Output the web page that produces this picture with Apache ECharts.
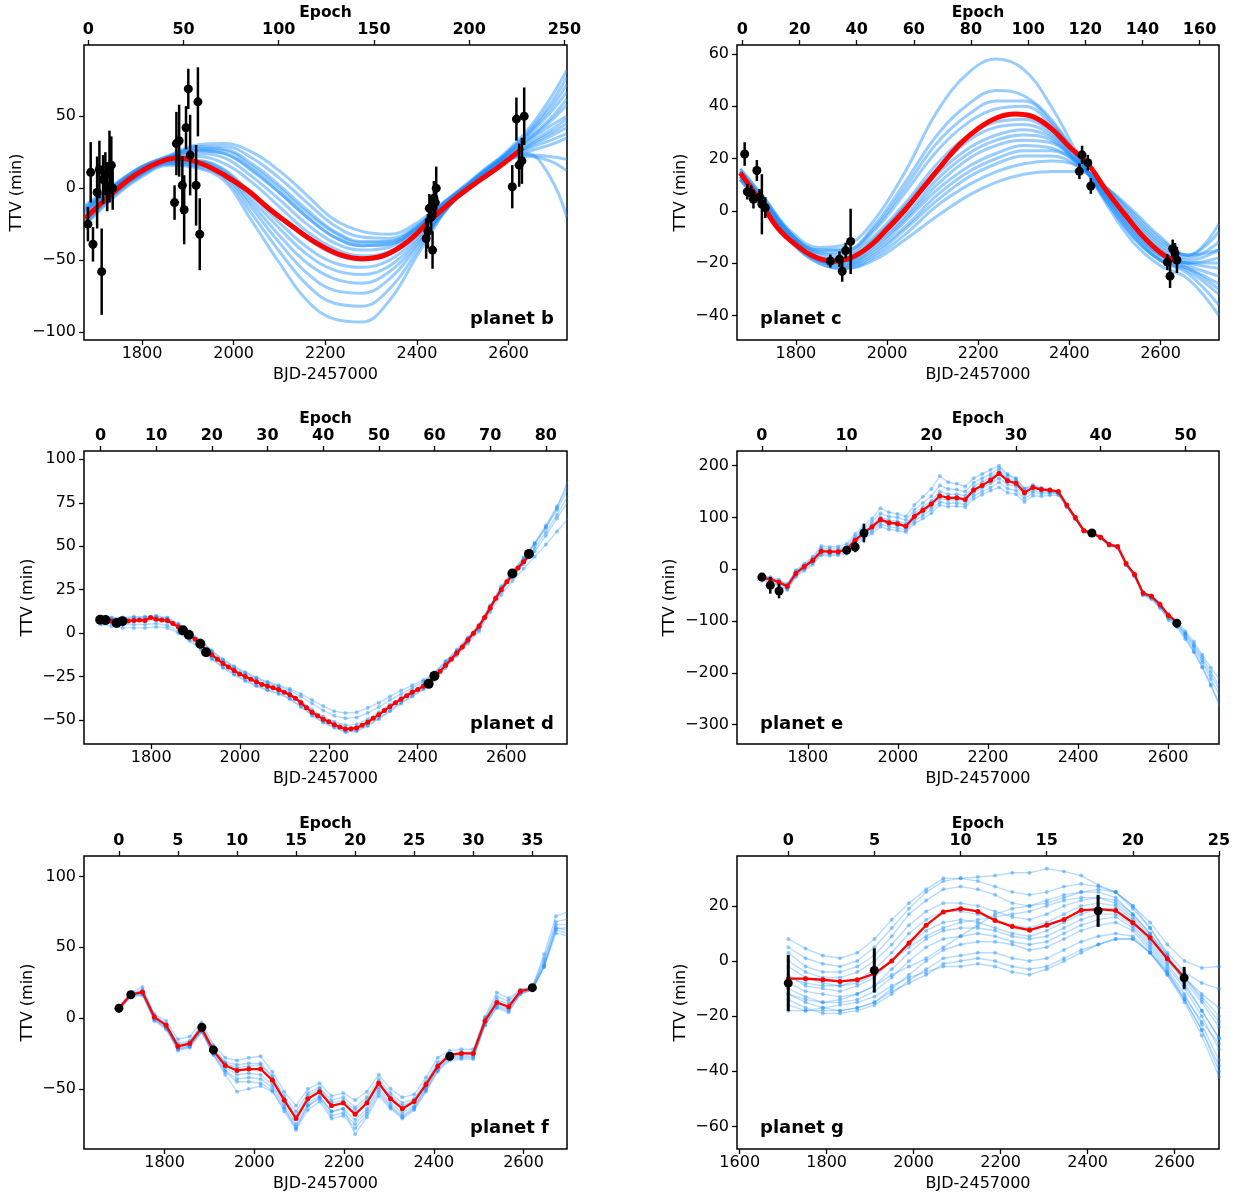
<!DOCTYPE html>
<html><head><meta charset="utf-8">
<script src="https://cdn.jsdelivr.net/npm/echarts@6/dist/echarts.min.js"></script>
<style>html,body{margin:0;padding:0;background:#fff}#c{width:1242px;height:1196px}</style>
</head><body><div id="c"></div>
<script>
const FONT = 'DejaVu Sans';

// ---------------- planet b ----------------
const bGridX = [1676, 1740, 1800, 1860, 1920, 1980, 2040, 2100, 2160, 2220, 2280, 2340, 2400, 2460, 2520, 2580, 2640, 2690, 2727];
const bBlue = [
  [-26, -6, 8, 16, 14, 5, -23, -52, -78, -91, -93, -78, -47, -17, 5, 21, 40, 62, 82],
  [-25, -5, 9, 17, 15, 7, -18, -44, -67, -80, -82, -70, -44, -16, 5, 20, 38, 58, 77],
  [-24, -4, 10, 17, 16, 9, -14, -38, -59, -71, -73, -63, -41, -16, 4, 20, 37, 55, 72],
  [-23, -3, 10, 18, 17, 10, -11, -33, -52, -63, -66, -58, -39, -16, 4, 19, 36, 52, 67],
  [-22, -2, 11, 18, 18, 12, -8, -28, -46, -57, -60, -54, -37, -16, 4, 19, 34, 48, 62],
  [-21, -1, 12, 19, 19, 13, -5, -24, -41, -52, -55, -50, -35, -15, 4, 19, 33, 46, 58],
  [-20, -2, 11, 19, 19, 11, -3, -20, -35, -46, -50, -46, -33, -14, 3, 18, 32, 43, 50],
  [-17, 0, 13, 21, 24, 21, 8, -8, -25, -38, -43, -41, -29, -12, 3, 17, 30, 40, 48],
  [-16, 1, 14, 21, 26, 24, 13, -3, -20, -34, -40, -39, -28, -11, 4, 17, 29, 38, 45],
  [-15, 1, 14, 22, 28, 27, 17, 2, -15, -30, -37, -37, -27, -10, 4, 17, 28, 36, 42],
  [-13, 2, 15, 22, 29, 29, 21, 7, -10, -26, -34, -35, -26, -10, 4, 16, 27, 33, 38],
  [-12, 3, 15, 23, 30, 31, 25, 12, -5, -22, -30, -32, -24, -9, 4, 16, 25, 30, 35],
  [-14, 2, 15, 22, 27, 26, 15, 0, -17, -31, -38, -37, -27, -10, 5, 18, 22, 19, 12],
  [-15, 1, 14, 21, 26, 24, 12, -3, -20, -34, -40, -39, -28, -10, 6, 20, 24, 8, -20],
  [-18, -1, 12, 20, 22, 17, 4, -13, -30, -42, -47, -44, -31, -12, 5, 18, 23, 22, 20]
];
const bRedX = [1676, 1730, 1780, 1830, 1880, 1930, 1980, 2030, 2080, 2130, 2180, 2230, 2280, 2330, 2380, 2430, 2480, 2530, 2580, 2631];
const bRed  = [-21, -5, 8, 17, 21, 17, 9, -1.5, -15, -27, -38, -46, -49, -46.5, -37, -22, -8, 4, 15, 28];
const bObsX = [1682, 1688, 1693, 1702, 1707, 1712, 1715, 1720, 1724, 1729, 1733, 1736, 1871, 1875, 1881, 1888, 1892, 1896, 1901, 1905, 1918, 1922, 1926, 2420, 2424, 2427, 2431, 2434, 2437, 2440, 2442, 2608, 2617, 2623, 2629, 2634];
const bObsY = [-25, 11, -39, -3, 13, -58, 6, 10, 1, 15, 16, 0, -10, 31, 33, 2, -15, 42, 69, 23, 2, 60, -32, -35, -30, -14, -20, -43, -7, -10, 0, 1, 48, 16, 19, 50];
const bObsErr = [12, 21, 12, 25, 20, 30, 17, 15, 17, 25, 20, 15, 12, 22, 25, 20, 24, 15, 14, 28, 28, 24, 25, 14, 12, 10, 12, 13, 12, 10, 15, 15, 15, 15, 16, 20];

// ---------------- planet c ----------------
const cGridX = [1678, 1730, 1790, 1850, 1910, 1970, 2040, 2110, 2180, 2240, 2300, 2360, 2420, 2480, 2540, 2600, 2660, 2728];
const cBlue = [
  [16, 5, -8, -14, -13, -4, 15, 38, 53, 58, 54, 40, 21, 3, -12, -21, -26, -40],
  [15, 4, -9, -15, -15, -6, 11, 29, 41, 46, 44, 35, 20, 4, -10, -19, -24, -36],
  [15, 4, -9, -15, -15, -7, 9, 26, 37, 42, 42, 34, 20, 4, -10, -19, -23, -32],
  [15, 4, -9, -16, -16, -8, 7, 23, 34, 39, 40, 33, 20, 5, -9, -19, -22, -28],
  [16, 5, -9, -16, -17, -10, 3, 18, 29, 34, 35, 30, 19, 5, -8, -18, -22, -30],
  [14, 3, -10, -17, -18, -11, 2, 16, 27, 32, 33, 29, 19, 6, -8, -17, -21, -25],
  [14, 3, -10, -18, -19, -12, 0, 14, 24, 29, 31, 28, 18, 6, -7, -17, -20, -22],
  [14, 3, -10, -18, -19, -13, -2, 12, 22, 27, 29, 27, 18, 6, -6, -16, -20, -20],
  [13, 2, -11, -18, -20, -14, -3, 10, 20, 25, 27, 26, 18, 7, -5, -15, -20, -18],
  [13, 2, -11, -19, -20, -15, -4, 8, 17, 22, 25, 24, 18, 8, -4, -14, -19, -15],
  [13, 2, -11, -19, -21, -16, -6, 6, 15, 20, 23, 23, 18, 8, -3, -13, -18, -12],
  [12, 1, -12, -19, -21, -17, -7, 4, 13, 18, 21, 21, 17, 9, -2, -12, -17, -8],
  [12, 1, -12, -20, -22, -18, -9, 2, 10, 15, 18, 19, 17, 9, -1, -11, -17, -5],
  [12, 1, -12, -20, -22, -19, -11, -2, 6, 11, 14, 15, 15, 9, 0, -10, -17, -15]
];
const cRedX = [1678, 1720, 1760, 1800, 1840, 1880, 1920, 1960, 2000, 2040, 2080, 2120, 2160, 2200, 2240, 2280, 2320, 2360, 2400, 2440, 2480, 2520, 2560, 2600, 2636];
const cRed  = [14.5, 4, -6.5, -13, -17.5, -19.3, -18, -13.8, -7, 0.5, 9, 17.5, 25.5, 31.5, 35.5, 37, 36, 31.5, 24.5, 18, 8, -1, -9.5, -16, -19.5];
const cObsX = [1687.6, 1693.5, 1701.9, 1706.9, 1714.4, 1720.3, 1725.4, 1732.9, 1875.6, 1895.7, 1901.6, 1909.2, 1920.1, 2422, 2427.8, 2440.4, 2447.1, 2615, 2620.9, 2626.7, 2631.8, 2636];
const cObsY = [21.7, 7.3, 6.7, 4.4, 15.4, 5.3, 2.5, 1.2, -19.2, -18.5, -23.1, -15.2, -11.7, 15.1, 21.4, 18.4, 9.5, -19.6, -25, -14.5, -16.3, -18.8];
const cObsErr = [4.5, 3, 3, 3.5, 4, 3, 11.5, 4, 2.5, 3, 4, 3, 12.5, 3, 3.5, 3, 3, 3, 4.5, 3.5, 4, 5];

// ---------------- planet d (model values per epoch) ----------------
const dRed = [7.7,7.5,7,5.8,6.9,7,7.3,7.5,7.3,9, 8,7.5,7.3,5.5,3.5,1.5,-1,-3.5,-6.2,-10,
  -12.5,-15,-17.5,-19.5,-21.5,-23.5,-25,-26.5,-28,-29.5, -30.5,-31.5,-32.5,-34,-35.5,-37.5,-40,-43,-45.5,-47.5,
  -49.5,-51,-52.7,-54,-55.2,-55,-54.6,-53,-51.3,-49, -47,-44.5,-42.3,-40,-38,-36,-34,-32.5,-30.5,-28.5,
  -25.5,-22,-18.5,-15,-11.5,-8,-4,0,4,9, 14.5,20,25,29.5,33.5,37.5,41,44.5];
const dBlueEp = [0,2,4,6,8,10,12,14,16,18,20,22,24,26,28,30,32,34,36,38,40,42,44,46,48,50,52,54,56,58,60,62,64,66,68,70,72,74,76,78,80,82,84];
const dBlue = [
  [9, 9, 9, 9.5, 9.5, 10, 9, 5.5, 1, -4, -10, -15, -19, -22.5, -25.5, -28, -30, -32, -35, -38.5, -42, -45, -46, -45.5, -43, -40, -36.5, -33, -30, -27, -22.5, -16, -9.5, -2.5, 5, 16, 27, 35.5, 43.5, 52, 62, 73, 85],
  [8, 8, 8, 8.5, 8.5, 9, 8, 4.5, 0, -5, -11.5, -16.5, -20.5, -24, -27, -29.5, -31.5, -34.5, -39, -44, -48, -51, -53, -52.5, -49.5, -45.5, -41, -37, -33, -29.5, -24, -17, -10.5, -3.5, 4, 15.5, 26, 34.5, 42.5, 51, 60.5, 71, 83],
  [7, 7, 6.5, 7, 7, 7.5, 6.5, 3, -2, -7, -13, -18, -22, -25.5, -28.5, -31, -33, -36, -40.5, -45.5, -49.5, -52.5, -54.5, -54, -51, -47, -42.5, -38.5, -34.5, -30.5, -25, -18, -11, -4, 3, 14.5, 25, 33, 41, 49, 58, 68, 79],
  [6, 5.5, 5, 5, 5, 5.5, 4.5, 1, -3.5, -8.5, -14.5, -19.5, -23.5, -27, -30, -32.5, -34.5, -37.5, -42, -47, -51, -54, -56.5, -56, -53, -49, -44.5, -40, -36, -32, -26, -19, -12, -5, 2, 13.5, 24, 32, 39.5, 47, 56, 66, 76],
  [5, 4, 3, 3, 3, 3.5, 3, 0, -4.5, -9.5, -15, -20, -24, -27.5, -30.5, -33, -35, -38, -42.5, -47.5, -51.5, -54.5, -57, -56.5, -53.5, -49.5, -45, -40.5, -36.5, -32.5, -27, -20, -13, -6, 1, 12, 22, 30, 37, 44, 51, 58.5, 66],
  [8.5, 8.5, 8.5, 9, 9, 9.5, 8.5, 5, 0.5, -4.5, -10.5, -15.5, -19.5, -23, -26, -28.5, -30.5, -33, -36.5, -40.5, -44.5, -47.5, -49, -48.5, -46, -42.5, -38.5, -35, -31.5, -28, -23, -16.5, -10, -3, 4.5, 15.5, 26.5, 35, 43, 51.5, 61, 72, 88]
];
const dObsX = [1685, 1697, 1722, 1735, 1871.6, 1884.7, 1910.6, 1923.6, 2425, 2438, 2613.7, 2651];
const dObsY = [7.7, 7.5, 5.8, 6.9, 1.6, -0.9, -6.1, -11, -29.2, -24.6, 34.3, 45.6];
const dObsErr = [1.5, 1.5, 1.5, 1.5, 1.5, 1.5, 1.5, 1.5, 1.5, 1.5, 1.5, 1.5];

// ---------------- planet e (per epoch) ----------------
const eRed = [-17,-19,-25,-33,-8,5,17,35,34,34, 38,56,70,82,96,90,88,83,102,114,
  126,142,138,138,135,153,162,172,185,171, 166,148,158,154,153,150,124,100,75,70,
  62,48,44,11,-10,-46,-52,-68,-89,-102];
const eBlue = [
  [-12,-15,-20,-28,-2,11,24,45,43,44, 49,68,84,98,118,110,107,102,124,140, 155,180,168,165,160,176,184,192,200,184, 176,156,163,157,154,150,123,98,73,68, 60,46,42,8,-14,-50,-58,-75,-98,-112, -135,-160,-190,-225,-258],
  [-14,-17,-22,-30,-4,8,21,41,39,40, 44,63,78,92,108,102,100,95,115,128, 141,162,155,154,150,167,176,184,195,181, 174,155,161,156,153,149,123,99,74,69, 61,47,43,9,-12,-48,-55,-71,-93,-106, -128,-152,-180,-212,-242],
  [-16,-18,-24,-32,-6,7,19,38,36,37, 41,59,74,86,101,95,93,88,108,120, 132,150,145,145,142,160,169,178,190,176, 170,151,158,153,150,147,121,97,72,67, 59,45,41,8,-13,-49,-56,-73,-95,-109, -132,-158,-188,-222,-264],
  [-18,-21,-27,-35,-10,3,15,33,32,32, 36,53,67,78,92,87,85,80,98,110, 121,137,134,134,131,148,157,166,176,164, 160,143,152,149,149,147,122,98,74,69, 61,47,43,10,-11,-47,-53,-70,-91,-104, -124,-145,-170,-198,-225],
  [-20,-23,-30,-38,-13,0,12,30,29,30, 33,50,63,74,87,82,80,76,93,104, 115,130,127,128,125,142,150,158,168,156, 152,136,148,146,147,146,122,99,75,70, 62,48,44,11,-10,-45,-50,-65,-86,-99, -120,-140,-165,-190,-212],
  [-22,-25,-32,-40,-15,-3,9,27,26,27, 30,46,58,69,82,77,75,72,88,98, 108,124,121,122,120,136,144,152,158,148, 145,130,142,141,143,143,120,97,74,69, 61,47,43,10,-11,-47,-53,-69,-90,-104, -125,-148,-175,-205,-232]
];
const eObsX = [1698, 1716.7, 1736.2, 1886.5, 1905.2, 1924.7, 2430.8, 2619.4];
const eObsY = [-15, -31, -42, 37, 43, 70, 70, -104];
const eObsErr = [6, 16, 14, 6, 10, 18, 5, 8];

// ---------------- planet f (per epoch) ----------------
const fRed = [7,16.5,18.4,0.7,-5,-20,-18,-7,-23,-33.5, -37,-36,-36,-44,-58,-71,-57,-52,-62,-60,
  -68,-60,-46,-57,-64,-59,-47,-34,-26,-25, -25,-2,11,8,19,21];
const fBlue = [
  [8,18,22,3,-2,-15,-13,-3,-19,-28, -30,-28,-27,-38,-52,-62,-50,-46,-55,-53, -58,-52,-40,-50,-56,-54,-42,-28,-23,-22, -22,1,18,14,20,22,45,72,75],
  [7,17,20,2,-4,-18,-16,-5,-21,-31, -33,-32,-32,-41,-55,-66,-53,-49,-58,-56, -63,-56,-43,-53,-60,-57,-45,-31,-25,-24, -24,0,15,12,20,21,42,68,70],
  [6,16,18,0,-6,-21,-19,-8,-24,-35, -40,-39,-40,-47,-61,-75,-60,-55,-66,-64, -72,-64,-49,-60,-67,-62,-49,-35,-27,-26, -26,-3,10,7,18,21,38,64,62],
  [5,15,16,-2,-8,-23,-21,-10,-26,-38, -45,-45,-46,-51,-66,-79,-65,-59,-71,-69, -78,-68,-53,-63,-70,-64,-51,-37,-29,-28, -28,-5,7,4,17,20,36,62,60],
  [7,17,19,1,-5,-19,-17,-6,-22,-32, -35,-34,-33,-42,-57,-69,-55,-50,-60,-58, -65,-58,-45,-55,-62,-58,-46,-33,-26,-25, -25,-1,13,10,19,21,40,66,66],
  [6,16,17,-1,-7,-22,-20,-9,-25,-37, -43,-42,-43,-49,-63,-77,-62,-57,-69,-67, -75,-66,-51,-62,-69,-63,-50,-36,-28,-27, -27,-4,9,6,18,20,37,63,64],
  [6,15,17,-1,-7,-22,-20,-9,-26,-40, -52,-50,-48,-52,-64,-78,-62,-56,-66,-64, -82,-70,-55,-64,-71,-65,-52,-38,-30,-29, -29,-5,8,5,17,20,36,60,58]
];
const fObsX = [1698.2, 1724.7, 1883, 1908.7, 2435.8, 2619.8];
const fObsY = [7, 16.5, -6.5, -22.5, -27, 21.5];
const fObsErr = [3, 2.5, 3, 3, 2, 2];

// ---------------- planet g (per epoch) ----------------
const gRed = [-6.4,-6.4,-6.8,-7.4,-6.8,-4.6,0,6.5,13,17.8, 19,18,14.7,12.5,11.2,13,15.1,18.4,18.8,18.3, 13.9,8.4,0.8,-6.1];
const gBlue = [
  [8, 4.5, 2, 1, 3, 8, 15, 21, 26, 30, 30, 30.5, 31, 32, 32, 33.5, 32.5, 31, 27.5, 25, 20, 14, 6, 0, -2.5, -2],
  [5, 1, -1, -2, 0, 5, 12, 19, 25, 29, 30, 29, 27, 25, 24, 25, 27, 28, 27, 25, 19, 12, 3, -4, -8, -10],
  [3, -2, -4, -4, -2, 2, 9, 17, 22, 26, 27, 26, 24, 21, 20, 21, 23, 25, 25, 23, 17, 10, 1, -6, -12, -17],
  [0, -4, -6, -6, -4, 0, 6, 13, 18, 21, 21, 20, 18, 16, 15, 17, 20, 22, 23, 21, 16, 9, 1, -6, -13, -20],
  [-2, -6, -8, -9, -7, -3, 3, 10, 15, 18, 18, 17, 15, 13, 12, 14, 17, 20, 21, 20, 15, 8, 0, -7, -15, -24],
  [-5, -9, -10, -11, -9, -6, 0, 6, 11, 14, 15, 14, 12, 10, 9, 11, 14, 17, 19, 19, 14, 7, -1, -9, -18, -28],
  [-8, -11, -12, -13, -12, -9, -3, 3, 8, 11, 12, 12, 11, 9, 8, 9, 12, 15, 17, 17, 13, 6, -2, -10, -20, -32],
  [-10, -13, -15, -15, -14, -11, -6, 0, 5, 8, 9, 10, 9, 7, 6, 7, 10, 13, 15, 16, 12, 5, -3, -12, -23, -36],
  [-12, -15, -17, -18, -17, -15, -10, -5, 0, 4, 6, 7, 7, 6, 4, 5, 8, 11, 13, 14, 11, 4, -4, -14, -25, -40],
  [-14, -17, -19, -19, -18, -16, -12, -7, -3, 1, 2, 3, 3, 1, 0, 1, 4, 7, 9, 10, 9, 3, -5, -15, -27, -42],
  [-16, -18, -18, -18, -17, -15, -11, -8, -5, -1, 0, 1, 0, -2, -3, -2, 1, 4, 6, 8, 8, 3, -5, -14, -25, -38],
  [-18, -18, -17, -16, -15, -13, -9, -6, -4, -2, -2, -1, -2, -4, -5, -3, 0, 3, 6, 8, 8, 3, -4, -13, -22, -30],
  [-12, -14, -15, -14, -12, -9, -5, -2, 1, 5, 9, 13, 17, 19, 20, 22, 24, 25, 26, 25, 20, 12, 2, -8, -18, -28],
  [-6, -8, -9, -9, -8, -5, 0, 5, 9, 12, 14, 15, 16, 17, 18, 20, 22, 23, 23, 22, 17, 10, 2, -6, -14, -22]
];
const gObsX = [1711.7, 1909.5, 2424, 2621.9];
const gObsY = [-8, -3.4, 18.2, -6.1];
const gObsErr = [10.2, 8, 5.8, 4];

// ---------------- tick labels ----------------
const bjdTicks = [1800, 2000, 2200, 2400, 2600];
const bjdTicksG = [1600, 1800, 2000, 2200, 2400, 2600];
const bEpochTicks = [0, 50, 100, 150, 200, 250];
const cEpochTicks = [0, 20, 40, 60, 80, 100, 120, 140, 160];
const dEpochTicks = [0, 10, 20, 30, 40, 50, 60, 70, 80];
const eEpochTicks = [0, 10, 20, 30, 40, 50];
const fEpochTicks = [0, 5, 10, 15, 20, 25, 30, 35];
const gEpochTicks = [0, 5, 10, 15, 20, 25];
const bYTicks = [-100, -50, 0, 50];
const cYTicks = [-40, -20, 0, 20, 40, 60];
const dYTicks = [-50, -25, 0, 25, 50, 75, 100];
const eYTicks = [-300, -200, -100, 0, 100, 200];
const fYTicks = [-50, 0, 50, 100];
const gYTicks = [-60, -40, -20, 0, 20];

// ---------------- build ----------------
const zip = (xs, ys) => xs.map((x, i) => [x, ys[i]]);
const byEpoch = ys => ys.map((v, i) => [i, v]);
const obs = (xs, ys, es) => xs.map((x, i) => [x, ys[i], es[i]]);

const panels = [
  {label:'planet b', box:[84,45,483,295], xr:[1673.4,2727.4], er:[-2.26,251.4], yr:[-105.5,99.5], xt:bjdTicks, et:bEpochTicks, yt:bYTicks, yGap:59, lab:[470,319],
   smooth:true, blueEpoch:false, blue:bBlue.map(c=>zip(bGridX,c)), red:zip(bRedX,bRed), obs:obs(bObsX,bObsY,bObsErr), ms:9, ebw:2.5},
  {label:'planet c', box:[737,45,482,295], xr:[1670.8,2728.3], er:[-1.89,166.8], yr:[-49.4,63.4], xt:bjdTicks, et:cEpochTicks, yt:cYTicks, yGap:48, lab:[760,319],
   smooth:true, blueEpoch:false, blue:cBlue.map(c=>zip(cGridX,c)), red:zip(cRedX,cRed), obs:obs(cObsX,cObsY,cObsErr), ms:9, ebw:2.5},
  {label:'planet d', box:[84,451,483,293], xr:[1648.6,2736.7], er:[-2.96,83.8], yr:[-63.8,104.8], xt:bjdTicks, et:dEpochTicks, yt:dYTicks, yGap:48, lab:[470,724],
   smooth:false, blueEpoch:true, blue:dBlue.map(c=>zip(dBlueEp,c)), red:byEpoch(dRed), obs:obs(dObsX,dObsY,dObsErr), ms:10, ebw:2.5},
  {label:'planet e', box:[737,451,482,293], xr:[1642.8,2713], er:[-2.94,53.97], yr:[-337.3,228.4], xt:bjdTicks, et:eEpochTicks, yt:eYTicks, yGap:59, lab:[760,724],
   smooth:false, blueEpoch:true, blue:eBlue.map(byEpoch), red:byEpoch(eRed), obs:obs(eObsX,eObsY,eObsErr), ms:9, ebw:2.5},
  {label:'planet f', box:[84,856,483,293], xr:[1620.3,2697], er:[-2.95,37.94], yr:[-92.5,114.5], xt:bjdTicks, et:fEpochTicks, yt:fYTicks, yGap:48, lab:[470,1128],
   smooth:false, blueEpoch:true, blue:fBlue.map(byEpoch), red:byEpoch(fRed), obs:obs(fObsX,fObsY,fObsErr), ms:9, ebw:2.5},
  {label:'planet g', box:[737,856,482,293], xr:[1593.8,2702], er:[-2.98,25.0], yr:[-68.2,38.1], xt:bjdTicksG, et:gEpochTicks, yt:gYTicks, yGap:48, lab:[760,1128],
   smooth:false, blueEpoch:true, blue:gBlue.map(byEpoch), red:byEpoch(gRed), obs:obs(gObsX,gObsY,gObsErr), ms:9, ebw:3}
];

const yFmt = v => (v < 0 ? '\u2212' + Math.abs(v) : String(v));
const plainFmt = v => String(v);
const txt = {color:'#000', fontSize:16, fontFamily:FONT};
const tick = vals => ({show:true, inside:false, length:5, lineStyle:{color:'#000', width:1.3}, customValues:vals});
const noLine = {show:false, onZero:false};

const option = {animation:false, backgroundColor:'#fff', grid:[], xAxis:[], yAxis:[], series:[], graphic:[]};

panels.forEach((p, k) => {
  option.grid.push({left:p.box[0], top:p.box[1], width:p.box[2], height:p.box[3], show:true, borderColor:'#000', borderWidth:1.5,
    backgroundColor:'transparent', containLabel:false, outerBoundsMode:'none'});
  option.xAxis.push({gridIndex:k, type:'value', position:'bottom', min:p.xr[0], max:p.xr[1],
    axisLine:noLine, splitLine:{show:false}, axisTick:tick(p.xt),
    axisLabel:Object.assign({customValues:p.xt, margin:6, formatter:plainFmt}, txt),
    name:'BJD-2457000', nameLocation:'middle', nameGap:27, nameMoveOverlap:false, nameTextStyle:Object.assign({}, txt)});
  option.xAxis.push({gridIndex:k, type:'value', position:'top', min:p.er[0], max:p.er[1],
    axisLine:noLine, splitLine:{show:false}, axisTick:tick(p.et),
    axisLabel:Object.assign({customValues:p.et, margin:7, fontWeight:'bold', formatter:plainFmt}, txt),
    name:'Epoch', nameLocation:'middle', nameGap:24, nameMoveOverlap:false,
    nameTextStyle:{color:'#000', fontSize:15.5, fontFamily:FONT, fontWeight:'bold'}});
  option.yAxis.push({gridIndex:k, type:'value', position:'left', min:p.yr[0], max:p.yr[1],
    axisLine:noLine, splitLine:{show:false}, axisTick:tick(p.yt),
    axisLabel:Object.assign({customValues:p.yt, margin:8, formatter:yFmt}, txt),
    name:'TTV (min)', nameLocation:'middle', nameGap:p.yGap, nameMoveOverlap:false, nameTextStyle:Object.assign({}, txt)});

  const xiModel = p.blueEpoch ? 2*k + 1 : 2*k;
  p.blue.forEach(curve => {
    option.series.push(p.smooth ? {
      type:'line', xAxisIndex:xiModel, yAxisIndex:k, data:curve, smooth:0.4, showSymbol:false, symbol:'none',
      silent:true, z:2, lineStyle:{color:'rgba(30,144,255,0.45)', width:3}
    } : {
      type:'line', xAxisIndex:xiModel, yAxisIndex:k, data:curve, showSymbol:true, symbol:'circle', symbolSize:4,
      silent:true, z:2, itemStyle:{color:'rgba(30,144,255,0.45)'}, lineStyle:{color:'rgba(30,144,255,0.32)', width:1.4}
    });
  });
  option.series.push(p.smooth ? {
      type:'line', xAxisIndex:2*k, yAxisIndex:k, data:p.red, smooth:0.4, showSymbol:false, symbol:'none',
      silent:true, z:3, lineStyle:{color:'#ff0000', width:5}
    } : {
      type:'line', xAxisIndex:2*k + 1, yAxisIndex:k, data:p.red, showSymbol:true, symbol:'circle', symbolSize:5,
      silent:true, z:3, itemStyle:{color:'#ff0000'}, lineStyle:{color:'#ff0000', width:2.3}
    });
  option.series.push({
    type:'custom', xAxisIndex:2*k, yAxisIndex:k, data:p.obs, encode:{x:0, y:1}, silent:true, z:4,
    renderItem:(params, api) => {
      const x = api.value(0), y = api.value(1), e = api.value(2);
      const a = api.coord([x, y - e]), b = api.coord([x, y + e]);
      return {type:'line', shape:{x1:a[0], y1:a[1], x2:b[0], y2:b[1]}, style:{stroke:'#000', lineWidth:p.ebw}};
    }
  });
  option.series.push({
    type:'scatter', xAxisIndex:2*k, yAxisIndex:k, data:p.obs.map(o => [o[0], o[1]]), symbol:'circle', symbolSize:p.ms,
    silent:true, z:5, itemStyle:{color:'#000', opacity:1}
  });
  option.graphic.push({type:'text', x:p.lab[0], y:p.lab[1], z:100, silent:true,
    style:{text:p.label, fill:'#000', font:'bold 18px "DejaVu Sans"', align:'left', verticalAlign:'middle'}});
});

const chart = echarts.init(document.getElementById('c'), null, {renderer:'canvas'});
chart.setOption(option);
</script>
</body></html>
